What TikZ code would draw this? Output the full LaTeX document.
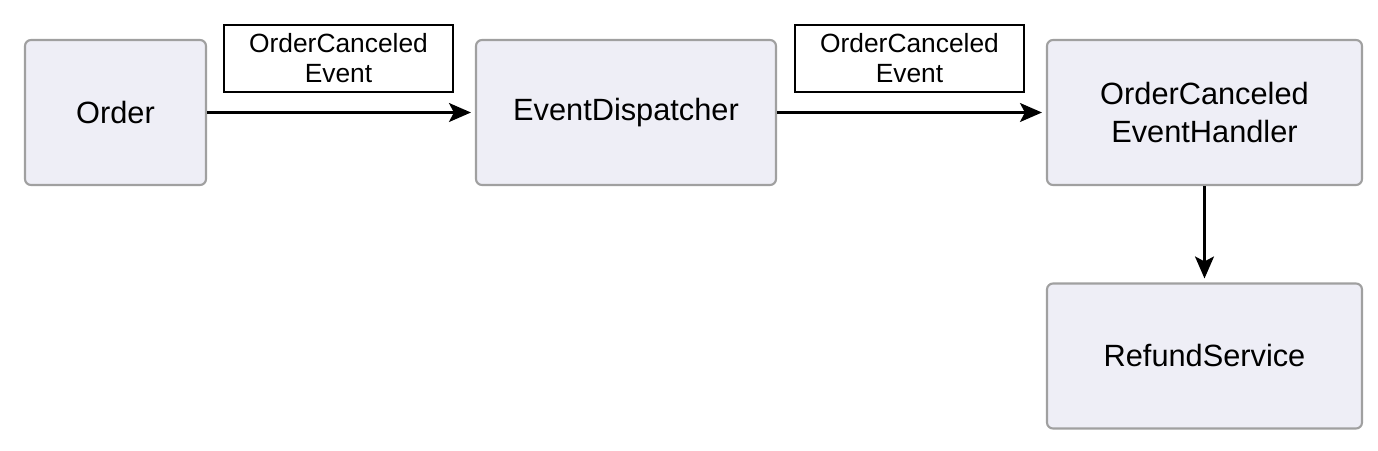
\documentclass[tikz,border=0pt]{standalone}
\usepackage{fontspec}
\setmainfont{Liberation Sans}
\usetikzlibrary{arrows.meta}
\definecolor{boxfill}{HTML}{EEEEF6}
\definecolor{boxline}{HTML}{A0A0A0}
\begin{document}
\begin{tikzpicture}[
    >={Stealth[length=4.4mm, width=3.8mm, inset=1mm]},
    line width=1.3pt,
    comp/.style={rectangle, rounded corners=1.2mm, draw=boxline, fill=boxfill,
      line width=1.2pt, minimum height=2.9cm, align=center,
      font=\fontsize{17.5}{22}\selectfont},
    msg/.style={rectangle, draw=black, fill=white, line width=1.4pt,
      minimum width=4.58cm, minimum height=1.34cm, inner sep=0pt, align=center,
      font=\fontsize{15}{17}\selectfont}
]
  \useasboundingbox (0,0) rectangle (27.56,-9);
  % nodes
  \node[comp, minimum width=3.62cm] (order)   at (2.31,-2.25)  {Order};
  \node[comp, minimum width=6.0cm]  (disp)    at (12.52,-2.25) {EventDispatcher};
  \node[comp, minimum width=6.3cm]  (handler) at (24.09,-2.25) {OrderCanceled\\EventHandler};
  \node[comp, minimum width=6.3cm]  (refund)  at (24.09,-7.12) {RefundService};

  \node[msg] (evt1) at (6.77,-1.17)  {OrderCanceled\\Event};
  \node[msg] (evt2) at (18.19,-1.17) {OrderCanceled\\Event};

  % edges
  \draw[->, shorten >=0.08cm] (order) -- (disp);
  \draw[->, shorten >=0.08cm] (disp) -- (handler);
  \draw[->, shorten >=0.08cm] (handler) -- (refund);
\end{tikzpicture}
\end{document}
